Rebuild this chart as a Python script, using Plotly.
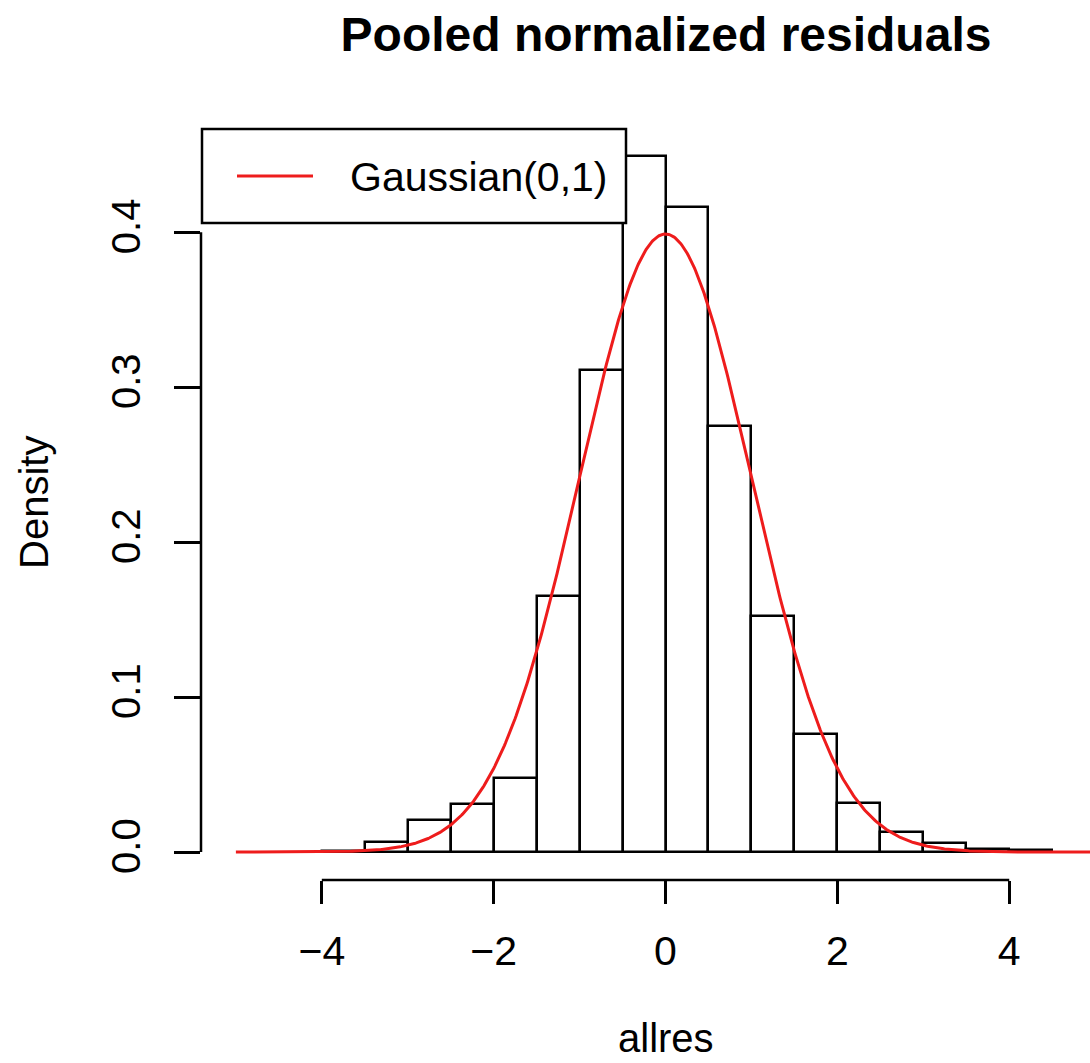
import numpy as np
import plotly.graph_objects as go

# Histogram of pooled normalized residuals (bin width 0.5)
bin_left = [-4.0, -3.5, -3.0, -2.5, -2.0, -1.5, -1.0, -0.5, 0.0, 0.5, 1.0, 1.5, 2.0, 2.5, 3.0, 3.5, 4.0]
density = [0.0004, 0.0066, 0.0206, 0.0310, 0.0478, 0.1650, 0.3110, 0.4490, 0.4165, 0.2750,
           0.1525, 0.0760, 0.0320, 0.0132, 0.0062, 0.0018, 0.0012]
bin_width = 0.5

x_ticks = [-4, -2, 0, 2, 4]
x_ticktext = ["\u22124", "\u22122", "0", "2", "4"]
y_ticks = [0.0, 0.1, 0.2, 0.3, 0.4]
y_ticktext = ["0.0", "0.1", "0.2", "0.3", "0.4"]

# Gaussian(0,1) reference curve
curve_x = np.linspace(-5, 5, 801)
curve_y = np.exp(-curve_x ** 2 / 2) / np.sqrt(2 * np.pi)

FONT = "Liberation Sans, Arial, Helvetica, sans-serif"
RED = "#ee1c1c"

centers = [b + bin_width / 2 for b in bin_left]

fig = go.Figure()
fig.add_trace(go.Bar(
    x=centers, y=density, width=bin_width,
    marker=dict(color="rgba(0,0,0,0)", line=dict(color="black", width=2.5)),
    showlegend=False, hoverinfo="x+y",
))
fig.add_trace(go.Scatter(
    x=curve_x, y=curve_y, mode="lines",
    line=dict(color=RED, width=3),
    name="Gaussian(0,1)", showlegend=False,
))

W, H = 1090, 1063
L, R, T, B = 201, 0, 127, 183
pw, ph = W - L - R, H - T - B

def px_x(p):
    return (p - L) / pw

def px_y(p):
    return (H - B - p) / ph

shapes = [
    # axis lines spanning the tick range (R style)
    dict(type="line", xref="paper", yref="y", x0=0, x1=0, y0=y_ticks[0], y1=y_ticks[-1],
         line=dict(color="black", width=2.5)),
    dict(type="line", xref="x", yref="paper", x0=x_ticks[0], x1=x_ticks[-1], y0=0, y1=0,
         line=dict(color="black", width=2.5)),
    # legend box
    dict(type="rect", xref="paper", yref="paper", x0=px_x(202), x1=px_x(626), y0=px_y(223), y1=px_y(129),
         line=dict(color="black", width=2.5), fillcolor="white", layer="above"),
    dict(type="line", xref="paper", yref="paper", x0=px_x(237), x1=px_x(313), y0=px_y(176), y1=px_y(176),
         line=dict(color=RED, width=3), layer="above"),
]

annotations = [
    dict(text="Gaussian(0,1)", xref="paper", yref="paper", x=px_x(348), y=px_y(177),
         xanchor="left", yanchor="middle", showarrow=False,
         font=dict(family=FONT, size=41, color="black")),
    dict(text="allres", xref="x", yref="paper", x=0, y=px_y(1062),
         xanchor="center", yanchor="bottom", showarrow=False,
         font=dict(family=FONT, size=40, color="black")),
    dict(text="Density", xref="paper", yref="paper", x=px_x(34), y=px_y(503),
         xanchor="center", yanchor="middle", showarrow=False, textangle=-90,
         font=dict(family=FONT, size=40, color="black")),
]

fig.update_layout(
    width=W, height=H,
    margin=dict(l=L, r=R, t=T, b=B, autoexpand=False),
    paper_bgcolor="white", plot_bgcolor="white",
    font=dict(family=FONT, size=40, color="black"),
    title=dict(text="<b>Pooled normalized residuals</b>", xref="paper", x=px_x(666), xanchor="center",
               yref="container", y=1 - 34 / H, yanchor="middle",
               font=dict(family=FONT, size=48, color="black")),
    xaxis=dict(range=[-5.406, 4.94], tickvals=x_ticks, ticktext=x_ticktext,
               showgrid=False, zeroline=False, showline=False,
               ticks="outside", ticklen=23, tickwidth=2.5, tickcolor="black",
               ticklabelstandoff=12, tickfont=dict(size=41), automargin=False),
    yaxis=dict(range=[-0.018, 0.468], tickvals=y_ticks, ticktext=y_ticktext,
               showgrid=False, zeroline=False, showline=False,
               ticks="outside", ticklen=26, tickwidth=2.5, tickcolor="black",
               tickangle=-90, ticklabelstandoff=18, tickfont=dict(size=40), automargin=False),
    shapes=shapes, annotations=annotations, showlegend=False, bargap=0,
)

fig.write_html("out.html")
